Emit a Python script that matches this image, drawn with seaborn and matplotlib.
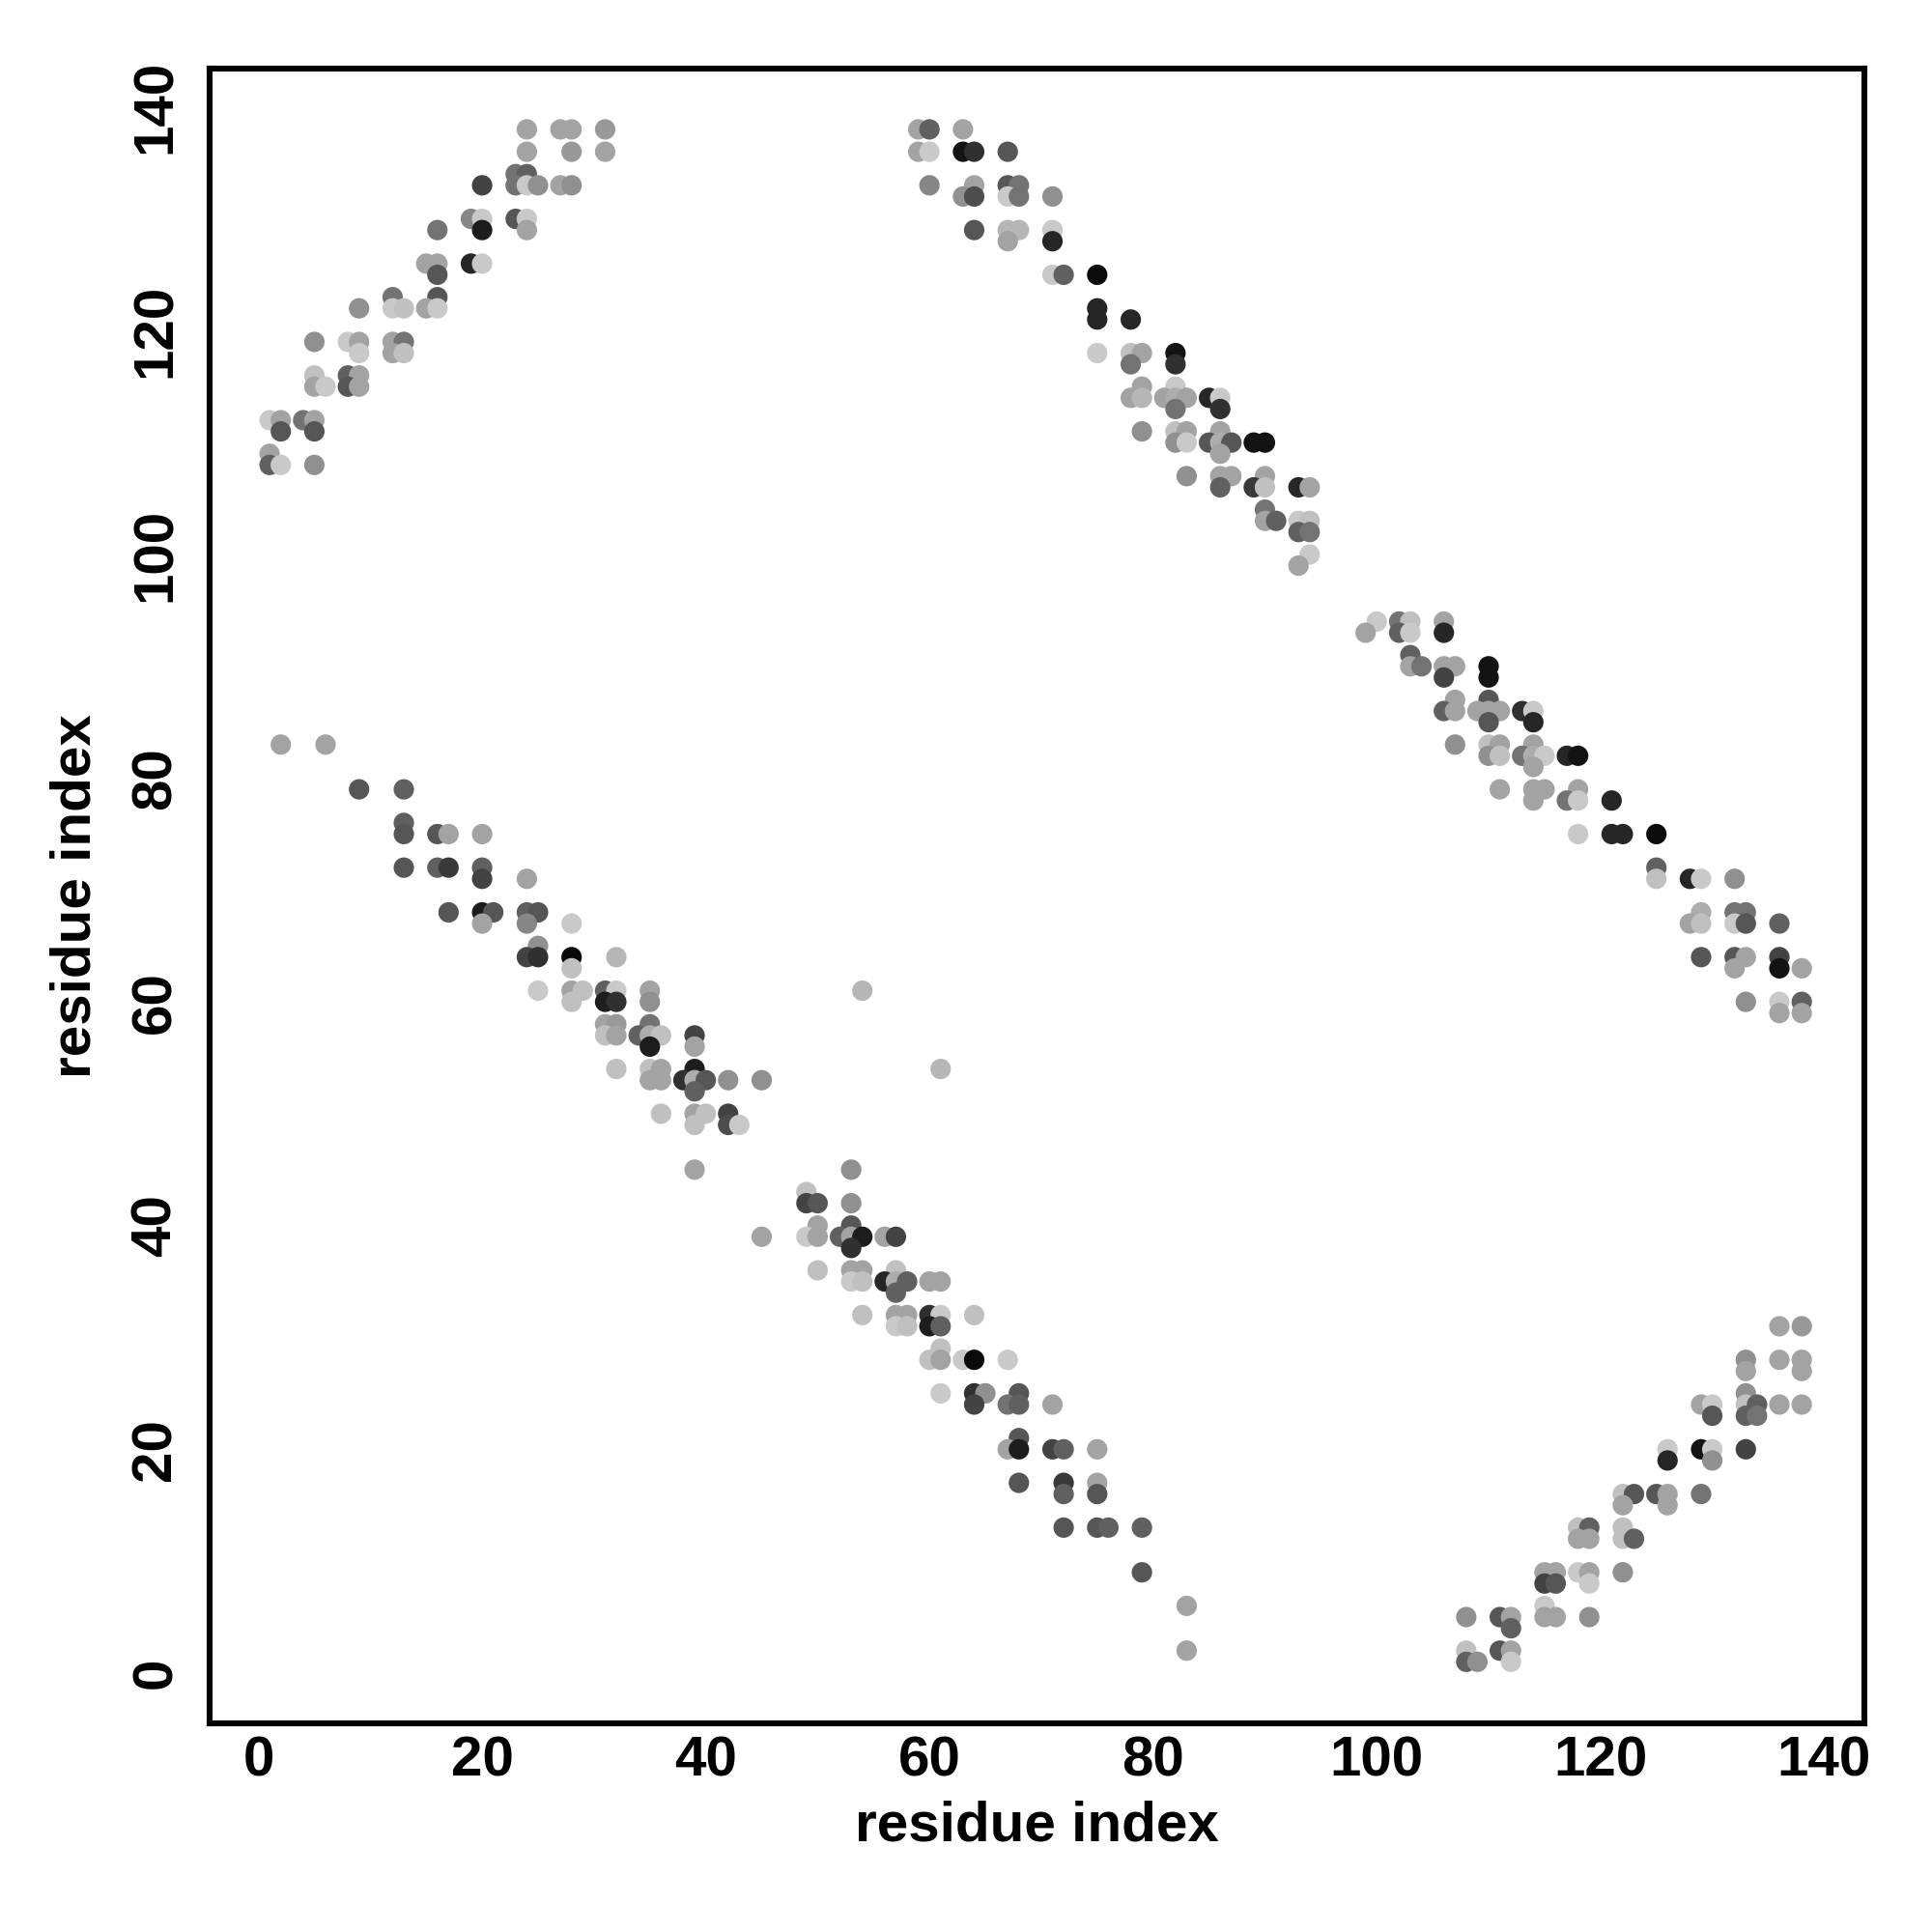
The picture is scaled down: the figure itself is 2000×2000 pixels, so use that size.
# residue contact map, shades = contact strength (0 light .. 1 dark)

import pandas as pd
import seaborn as sns
import matplotlib.pyplot as plt
from matplotlib.colors import LinearSegmentedColormap

# block 1: N-term / C-term contacts (top left)
res_i_1 = [24, 27, 28, 31, 24, 28, 31, 23, 24, 20, 23, 24, 25, 27, 28, 19, 20, 23, 24, 16, 20, 24,
           15, 16, 19, 20, 16, 12, 16, 9, 12, 13, 15, 16, 5, 8, 9, 12, 13, 9, 12, 13, 5, 8, 9,
           5, 6, 8, 9, 1, 2, 4, 5, 2, 5, 1, 1, 2, 5]
res_j_1 = [138, 138, 138, 138, 136, 136, 136, 134, 134, 133, 133, 133, 133, 133, 133, 130, 130, 130, 130, 129, 129, 129,
           126, 126, 126, 126, 125, 123, 123, 122, 122, 122, 122, 122, 119, 119, 119, 119, 119, 118, 118, 118, 116, 116, 116,
           115, 115, 115, 115, 112, 112, 112, 112, 111, 111, 109, 108, 108, 108]
shade_1 = [.2, .2, .2, .25, .2, .25, .2, .45, .55, .7, .45, 0, .3, .2, .3, .35, 0, .6, 0, .45, .9, .2,
           .2, .2, .85, 0, .6, .45, .6, .3, 0, .05, .2, 0, .3, 0, .2, .2, .45, 0, .2, .05, .05, .55, .2,
           .2, 0, .6, .2, 0, .2, .45, .2, .6, .6, .2, .55, 0, .3]

# block 2 (top middle)
res_i_2 = [59, 60, 63, 59, 60, 63, 64, 67, 60, 64, 67, 68, 63, 64, 67, 68, 71, 64, 67, 68, 71, 67, 71,
           71, 72, 75, 75, 75, 78, 75, 78, 79, 82, 78, 82, 79, 82, 78, 79, 81, 82, 83, 85, 86, 82, 86,
           79, 82, 83, 86, 82, 83, 85, 86, 87, 89, 90, 86, 83, 86, 87, 90, 86, 89, 90, 93, 94, 90,
           90, 91, 93, 94, 93, 94, 94, 93]
res_j_2 = [138, 138, 138, 136, 136, 136, 136, 136, 133, 133, 133, 133, 132, 132, 132, 132, 132, 129, 129, 129, 129, 128, 128,
           125, 125, 125, 122, 121, 121, 118, 118, 118, 118, 117, 117, 115, 115, 114, 114, 114, 114, 114, 114, 114, 113, 113,
           111, 111, 111, 111, 110, 110, 110, 110, 110, 110, 110, 109, 107, 107, 107, 107, 106, 106, 106, 106, 106, 104,
           103, 103, 103, 103, 102, 102, 100, 99]
shade_2 = [.2, .55, .2, .2, 0, .95, .8, .6, .35, .2, .6, .45, .3, .65, 0, .45, .3, .6, .1, .1, 0, .2, .85,
           0, .55, 1.0, .85, .85, .85, 0, .05, .2, .95, .45, .8, .2, 0, .2, .1, .2, .15, .2, .85, 0, .45, .8,
           .3, .05, .2, .2, .3, 0, .6, .15, .6, .95, .95, .2, .3, .2, .2, .2, .55, .75, .05, .85, .2, .45,
           .2, .55, 0, .05, .55, .45, 0, .2]

# block 3 (right middle)
res_i_3 = [100, 102, 103, 106, 99, 102, 103, 106, 103, 103, 104, 106, 107, 110, 106, 110, 107, 110,
           106, 107, 109, 110, 111, 113, 114, 110, 114, 107, 110, 111, 114,
           110, 111, 113, 114, 115, 117, 118, 114, 111, 114, 115, 118, 114, 117, 118, 121,
           118, 121, 122, 125, 125, 125, 128, 129, 132, 129, 132, 133, 128, 129, 132, 133, 136,
           129, 132, 133, 136, 132, 136, 138, 133, 136, 138, 136, 138]
res_j_3 = [94, 94, 94, 94, 93, 93, 93, 93, 91, 90, 90, 90, 90, 90, 89, 89, 87, 87,
           86, 86, 86, 86, 86, 86, 86, 85, 85, 83, 83, 83, 83,
           82, 82, 82, 82, 82, 82, 82, 81, 79, 79, 79, 79, 78, 78, 78, 78,
           75, 75, 75, 75, 72, 71, 71, 71, 71, 68, 68, 68, 67, 67, 67, 67, 67,
           64, 64, 64, 64, 63, 63, 63, 60, 60, 60, 59, 59]
shade_3 = [0, .45, .05, .2, .2, .55, 0, .85, .55, .2, .45, .2, .2, .95, .7, .95, .2, .6,
           .55, .2, .2, .2, .2, .8, 0, .6, .85, .3, .05, .2, .2,
           .3, .05, .45, .15, 0, .85, .95, .2, .2, .2, .2, .2, .2, .45, 0, .85,
           0, .85, .85, 1.0, .55, .05, .85, 0, .3, .15, .45, .45, .2, .05, 0, .6, .55,
           .6, .6, .2, .7, .2, .95, .2, .3, 0, .55, .2, .2]

# block 4 (left middle, antiparallel)
res_i_4 = [2, 6, 9, 13, 13, 13, 16, 17, 20, 13, 16, 17, 20, 20, 24, 17, 20, 21, 24, 25, 20, 24, 28,
           25, 24, 25, 28, 32, 28, 25, 28, 29, 31, 32, 35, 28, 31, 32, 35, 31, 32, 35,
           31, 32, 34, 35, 36, 39, 35, 39, 32, 35, 36, 39, 35, 36, 38, 39, 40, 42, 45, 39,
           36, 39, 40, 42, 39, 42, 43, 39, 45, 54, 61]
res_j_4 = [83, 83, 79, 79, 76, 75, 75, 75, 75, 72, 72, 72, 72, 71, 71, 68, 68, 68, 68, 68, 67, 67, 67,
           65, 64, 64, 64, 64, 63, 61, 61, 61, 61, 61, 61, 60, 60, 60, 60, 58, 58, 58,
           57, 57, 57, 57, 57, 57, 56, 56, 54, 54, 54, 54, 53, 53, 53, 53, 53, 53, 53, 52,
           50, 50, 50, 50, 49, 49, 49, 45, 39, 61, 54]
shade_4 = [.2, .2, .6, .55, .55, .6, .6, .2, .2, .6, .55, .75, .55, .7, .2, .6, .9, .6, .55, .6, .2, .35, 0,
           .3, .7, .8, 1.0, .1, .05, 0, .2, .05, .55, 0, .2, .05, .9, .8, .3, .2, .25, .45,
           .05, .2, .55, .15, .05, .7, .9, .2, .05, .05, .2, .9, .2, .2, .8, .15, .6, .3, .3, .55,
           .05, .2, .05, .7, .05, .65, 0, .2, .2, .1, .1]

# block 5 (lower middle)
res_i_5 = [53, 49, 49, 50, 53, 50, 53, 49, 50, 52, 53, 54, 56, 57, 53, 50, 53, 54, 57,
           53, 54, 56, 57, 58, 60, 61, 57, 54, 57, 58, 60, 61, 64, 57, 58, 60, 61, 61,
           60, 61, 63, 64, 67, 61, 64, 65, 68, 64, 67, 68, 71, 68, 67, 68, 71, 72, 75,
           68, 72, 75, 72, 75, 72, 75, 76, 79, 79, 83, 83]
res_j_5 = [45, 43, 42, 42, 42, 40, 40, 39, 39, 39, 39, 39, 39, 39, 38, 36, 36, 36, 36,
           35, 35, 35, 35, 35, 35, 35, 34, 32, 32, 32, 32, 32, 32, 31, 31, 31, 31, 29,
           28, 28, 28, 28, 28, 25, 25, 25, 25, 24, 24, 24, 24, 21, 20, 20, 20, 20, 20,
           17, 17, 17, 16, 16, 13, 13, 13, 13, 9, 6, 2]
shade_5 = [.3, .05, .7, .6, .3, .2, .6, 0, .2, .55, .2, .9, .2, .7, .8, .05, .2, .2, .05,
           0, .05, .85, .15, .55, .2, .2, .55, .05, .2, .2, .8, 0, .05, 0, .05, .9, .55, .05,
           .05, .2, 0, 1.0, 0, 0, .8, .3, .6, .7, .45, .55, .2, .6, .2, .9, .7, .55, .2,
           .6, .75, .2, .55, .6, .6, .6, .55, .55, .6, .2, .2]

# block 6 (bottom right)
res_i_6 = [136, 138, 133, 136, 138, 133, 138, 133, 129, 130, 133, 134, 136, 138, 130, 133, 134,
           126, 129, 130, 133, 126, 130, 122, 123, 125, 126, 129, 122, 126, 118, 119, 122,
           118, 119, 122, 123, 115, 116, 118, 119, 122, 115, 116, 119, 115,
           108, 111, 112, 115, 116, 119, 112, 108, 111, 112, 108, 109, 112]
res_j_6 = [31, 31, 28, 28, 28, 27, 27, 25, 24, 24, 24, 24, 24, 24, 23, 23, 23,
           20, 20, 20, 20, 19, 19, 16, 16, 16, 16, 16, 15, 15, 13, 13, 13,
           12, 12, 12, 12, 9, 9, 9, 9, 9, 8, 8, 8, 6,
           5, 5, 5, 5, 5, 5, 4, 2, 2, 2, 1, 1, 1]
shade_6 = [.2, .25, .3, .2, .2, .2, .2, .3, .2, 0, .05, .55, .2, .2, .6, .55, .45,
           0, .95, 0, .7, .85, .3, .05, .6, .6, .2, .45, .2, .2, .05, .55, .05,
           .2, .2, .05, .55, .2, .2, 0, .2, .3, .7, .6, 0, 0,
           .3, .6, .2, .2, .2, .3, .55, .05, .6, .2, .55, .3, 0]

df = pd.DataFrame({
    'i': res_i_1 + res_i_2 + res_i_3 + res_i_4 + res_i_5 + res_i_6,
    'j': res_j_1 + res_j_2 + res_j_3 + res_j_4 + res_j_5 + res_j_6,
    'shade': shade_1 + shade_2 + shade_3 + shade_4 + shade_5 + shade_6,
})

greys = LinearSegmentedColormap.from_list('greys', ['#c9c9c9', '#0a0a0a'])

sns.set_style('white')
plt.rcParams['font.family'] = ['Liberation Sans', 'DejaVu Sans']
plt.rcParams['font.weight'] = 'bold'
plt.rcParams['text.color'] = 'black'
plt.rcParams['axes.labelcolor'] = 'black'
plt.rcParams['xtick.color'] = 'black'
plt.rcParams['ytick.color'] = 'black'

fig = plt.figure(figsize=(10, 10), dpi=200)
ax = fig.add_axes([0.1083, 0.108, 0.8567, 0.8563])
sns.scatterplot(data=df, x='i', y='j', hue='shade', palette=greys, hue_norm=(0, 1),
                s=58, linewidth=0, legend=False, ax=ax)

ax.set_xlim(-4.4, 143.6)
ax.set_ylim(-4.5, 143.4)
ax.set_xticks(range(0, 141, 20))
ax.set_yticks(range(0, 141, 20))
ax.tick_params(axis='both', direction='out', length=3, width=0.8, labelsize=21, color='black',
               labelcolor='black')
ax.tick_params(axis='x', pad=1.5)
ax.tick_params(axis='y', pad=7)
for lab in ax.get_yticklabels():
    lab.set_rotation(90)
    lab.set_va('center')
for lab in ax.get_xticklabels() + ax.get_yticklabels():
    lab.set_fontweight('bold')
for sp in ax.spines.values():
    sp.set_visible(True)
    sp.set_linewidth(2.2)
    sp.set_color('black')

ax.set_xlabel('residue index', fontsize=21, fontweight='bold', color='black')
ax.set_ylabel('residue index', fontsize=21, fontweight='bold', color='black')
ax.xaxis.set_label_coords(0.5, -0.062)
ax.xaxis.label.set_va('center')
ax.yaxis.set_label_coords(-0.0804, 0.5)
ax.yaxis.label.set_va('center')

fig.savefig('out.png', dpi=200, facecolor='white')
